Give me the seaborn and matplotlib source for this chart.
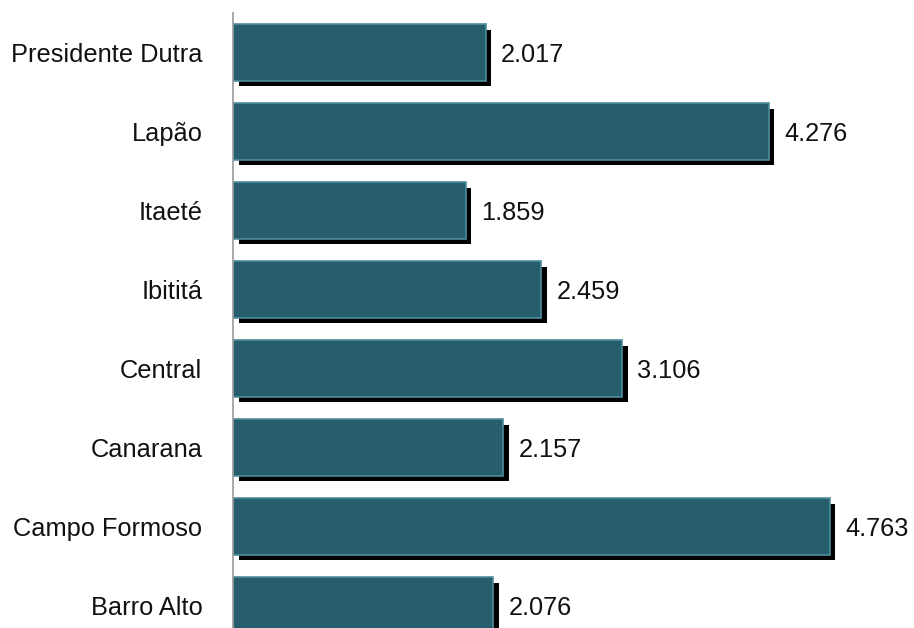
import numpy as np
import pandas as pd
import matplotlib
matplotlib.use('Agg')
import matplotlib.pyplot as plt
import matplotlib.patheffects as pe
import seaborn as sns

# data (values in the Brazilian format 2.017 = 2017)
municipios = ['Presidente Dutra', 'Lapão', 'Itaeté', 'Ibititá', 'Central',
              'Canarana', 'Campo Formoso', 'Barro Alto']
valores = [2017, 4276, 1859, 2459, 3106, 2157, 4763, 2076]
rotulos = ['2.017', '4.276', '1.859', '2.459', '3.106', '2.157', '4.763', '2.076']

df = pd.DataFrame({'municipio': municipios, 'valor': valores})

sns.set_style('white')
plt.rcParams['font.family'] = ['Liberation Sans', 'DejaVu Sans']

fig = plt.figure(figsize=(9.14, 6.28), dpi=100)
# axes runs past the bottom edge, like the cropped original
ax = fig.add_axes([233 / 914, 1 - 645 / 628, 681 / 914, 632 / 628])

sns.barplot(data=df, x='valor', y='municipio', orient='h', color='#265e6e',
            width=0.72, saturation=1, ax=ax,
            edgecolor='#4f8d9c', linewidth=1.2)

# drop shadow on every bar
for bar in ax.patches:
    bar.set_path_effects([pe.SimplePatchShadow(offset=(4, -4), shadow_rgbFace='black', alpha=1),
                          pe.Normal()])

txts = ax.bar_label(ax.containers[0], labels=rotulos, padding=11, fontsize=18.3, color='#111111')
for t in txts:
    t.set_va('center_baseline')

ax.set_xlim(0, 5435)
ax.set_ylim(7.5, -0.5)
ax.set_xlabel('')
ax.set_ylabel('')
ax.set_xticks([])
ax.tick_params(axis='y', length=0, pad=22, labelsize=18.3, labelcolor='#111111')

for s in ['top', 'right', 'bottom']:
    ax.spines[s].set_visible(False)
ax.spines['left'].set_color('#999999')
ax.spines['left'].set_linewidth(1.2)

fig.savefig('out.png', dpi=100)
